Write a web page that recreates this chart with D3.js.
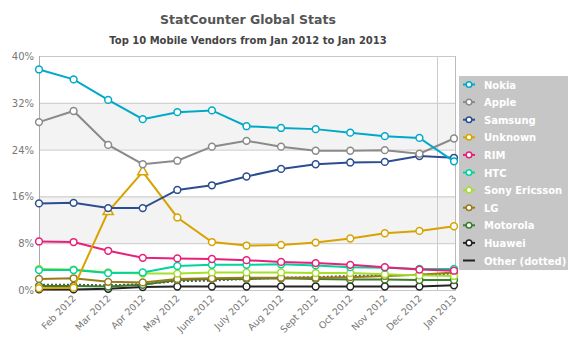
<!DOCTYPE html>
<html>
<head>
<meta charset="utf-8">
<script src="https://cdn.jsdelivr.net/npm/d3@7"></script>
<style>
  body { margin: 0; background: #fff; }
  svg { font-family: "DejaVu Sans", Verdana, sans-serif; }
</style>
</head>
<body>
<div id="chart"></div>
<script>
// months on the x axis
const months = ['Jan 2012', 'Feb 2012', 'Mar 2012', 'Apr 2012', 'May 2012', 'June 2012', 'July 2012',
  'Aug 2012', 'Sept 2012', 'Oct 2012', 'Nov 2012', 'Dec 2012', 'Jan 2013'];
const yTicks = [0, 8, 16, 24, 32, 40];

// market share (%) per vendor
const nokia = [37.7, 36.0, 32.5, 29.2, 30.4, 30.7, 28.0, 27.7, 27.5, 26.9, 26.3, 26.0, 22.0];
const apple = [28.7, 30.6, 24.8, 21.5, 22.1, 24.5, 25.5, 24.5, 23.8, 23.8, 23.9, 23.3, 25.9];
const samsung = [14.8, 14.9, 14.0, 14.0, 17.1, 17.9, 19.4, 20.7, 21.5, 21.8, 21.9, 22.9, 22.6];
const unknown = [0.3, 0.4, 13.4, 20.2, 12.4, 8.2, 7.6, 7.7, 8.1, 8.8, 9.7, 10.1, 10.9];
const rim = [8.3, 8.2, 6.7, 5.5, 5.4, 5.3, 5.1, 4.8, 4.6, 4.3, 3.9, 3.5, 3.3];
const htc = [3.4, 3.4, 2.9, 3.0, 4.1, 4.3, 4.3, 4.4, 4.2, 3.9, 3.8, 3.6, 3.6];
const sonyEricsson = [3.6, 3.5, 3.0, 2.8, 2.8, 3.0, 3.0, 3.0, 2.9, 2.9, 2.7, 2.5, 2.4];
const lg = [1.9, 2.0, 1.4, 1.3, 1.9, 2.0, 2.1, 2.1, 2.1, 2.2, 2.4, 2.6, 3.0];
const motorola = [0.7, 0.7, 0.6, 0.9, 1.7, 1.9, 1.9, 2.0, 1.9, 1.8, 1.8, 1.7, 1.7];
const huawei = [0.1, 0.1, 0.2, 0.5, 0.6, 0.6, 0.6, 0.6, 0.6, 0.6, 0.6, 0.6, 0.8];
const other = [0.9, 0.9, 0.8, 1.0, 1.5, 1.6, 1.9, 2.1, 2.2, 2.4, 2.5, 2.6, 2.8];

const series = [
  { name: 'Nokia', values: nokia, color: '#00a9c9' },
  { name: 'Apple', values: apple, color: '#8a8a8a' },
  { name: 'Samsung', values: samsung, color: '#2c4e91' },
  { name: 'Unknown', values: unknown, color: '#d8a300' },
  { name: 'RIM', values: rim, color: '#e8207a' },
  { name: 'HTC', values: htc, color: '#00d49c' },
  { name: 'Sony Ericsson', values: sonyEricsson, color: '#a3df2c' },
  { name: 'LG', values: lg, color: '#9a7a1c' },
  { name: 'Motorola', values: motorola, color: '#3d7c2c' },
  { name: 'Huawei', values: huawei, color: '#222222' },
];

const width = 580;
const height = 352;
const margin = { top: 56, left: 39, right: 124, bottom: 62 };

const svg = d3.select('#chart').append('svg')
  .attr('width', width)
  .attr('height', height);

const plotRight = width - margin.right;
const plotBottom = height - margin.bottom;

const x = d3.scalePoint().domain(months).range([margin.left, 454]);
const y = d3.scaleLinear().domain([0, 40]).range([plotBottom, margin.top]);

// alternating bands
[[8, 16], [24, 32]].forEach((b) => {
  svg.append('rect')
    .attr('x', margin.left)
    .attr('y', y(b[1]))
    .attr('width', plotRight - margin.left)
    .attr('height', y(b[0]) - y(b[1]))
    .attr('fill', '#f3f3f3');
});

// horizontal grid
svg.append('g')
  .selectAll('line')
  .data(yTicks)
  .join('line')
  .attr('x1', margin.left)
  .attr('x2', plotRight)
  .attr('y1', (d) => y(d) + 0.5)
  .attr('y2', (d) => y(d) + 0.5)
  .attr('stroke', '#c8c8c8');

// frame
svg.append('line').attr('x1', margin.left + 0.5).attr('x2', margin.left + 0.5)
  .attr('y1', margin.top).attr('y2', plotBottom).attr('stroke', '#aaa');
svg.append('line').attr('x1', plotRight - 0.5).attr('x2', plotRight - 0.5)
  .attr('y1', margin.top).attr('y2', plotBottom).attr('stroke', '#bbb');
svg.append('line').attr('x1', 437.5).attr('x2', 437.5)
  .attr('y1', margin.top).attr('y2', plotBottom).attr('stroke', '#ccc');

// y axis labels
svg.append('g')
  .selectAll('text')
  .data(yTicks)
  .join('text')
  .attr('x', 34)
  .attr('y', (d) => y(d) + 4)
  .attr('text-anchor', 'end')
  .attr('font-size', 10)
  .attr('fill', '#777')
  .text((d) => `${d}%`);

// x axis labels
svg.append('g')
  .selectAll('text')
  .data(months.slice(1))
  .join('text')
  .attr('transform', (d) => `translate(${x(d) + 3},${plotBottom + 9}) rotate(-45)`)
  .attr('text-anchor', 'end')
  .attr('font-size', 9.5)
  .attr('fill', '#777')
  .text((d) => d);

const line = d3.line()
  .x((d, i) => x(months[i]))
  .y((d) => y(d));

// other (dotted)
svg.append('path')
  .attr('d', line(other))
  .attr('fill', 'none')
  .attr('stroke', '#555')
  .attr('stroke-width', 2)
  .attr('stroke-dasharray', '2,2');

// draw from bottom series upward so the big ones sit on top
series.slice().reverse().forEach((s) => {
  const g = svg.append('g');
  g.append('path')
    .attr('d', line(s.values))
    .attr('fill', 'none')
    .attr('stroke', s.color)
    .attr('stroke-width', 2);
  g.selectAll('.pt')
    .data(s.values)
    .join('circle')
    .attr('class', 'pt')
    .attr('cx', (d, i) => x(months[i]))
    .attr('cy', (d) => y(d))
    .attr('r', (d, i) => (s.name === 'Unknown' && (i === 2 || i === 3) ? 0 : 3.4))
    .attr('fill', '#fff')
    .attr('stroke', s.color)
    .attr('stroke-width', 1.5);
  if (s.name === 'Unknown') {
    g.selectAll('.tri')
      .data([2, 3])
      .join('path')
      .attr('class', 'tri')
      .attr('d', d3.symbol(d3.symbolTriangle, 45))
      .attr('transform', (i) => `translate(${x(months[i])},${y(s.values[i])})`)
      .attr('fill', '#fff')
      .attr('stroke', s.color)
      .attr('stroke-width', 1.5);
  }
});

// titles
svg.append('text')
  .attr('x', 248)
  .attr('y', 24)
  .attr('text-anchor', 'middle')
  .attr('font-size', 12.5)
  .attr('font-weight', 'bold')
  .attr('fill', '#555')
  .text('StatCounter Global Stats');
svg.append('text')
  .attr('x', 248)
  .attr('y', 44)
  .attr('text-anchor', 'middle')
  .attr('font-size', 10)
  .attr('font-weight', 'bold')
  .attr('fill', '#444')
  .text('Top 10 Mobile Vendors from Jan 2012 to Jan 2013');

// legend
const legend = svg.append('g').attr('transform', 'translate(459,76)');
legend.append('rect')
  .attr('width', 109)
  .attr('height', 194)
  .attr('fill', '#c6c6c6');

const legendItems = series.concat([{ name: 'Other (dotted)', color: '#222', noMarker: true }]);
const item = legend.selectAll('.item')
  .data(legendItems)
  .join('g')
  .attr('class', 'item')
  .attr('transform', (d, i) => `translate(0,${8.5 + i * 17.6})`);

item.append('line')
  .attr('x1', 4)
  .attr('x2', 16)
  .attr('stroke', (d) => d.color)
  .attr('stroke-width', 2);
item.filter((d) => !d.noMarker)
  .append('circle')
  .attr('cx', 10)
  .attr('r', 2.8)
  .attr('fill', '#fff')
  .attr('stroke', (d) => d.color)
  .attr('stroke-width', 1.5);
item.append('text')
  .attr('x', 25)
  .attr('y', 4)
  .attr('font-size', 10)
  .attr('font-weight', 'bold')
  .attr('fill', '#fff')
  .text((d) => d.name);
</script>
</body>
</html>
